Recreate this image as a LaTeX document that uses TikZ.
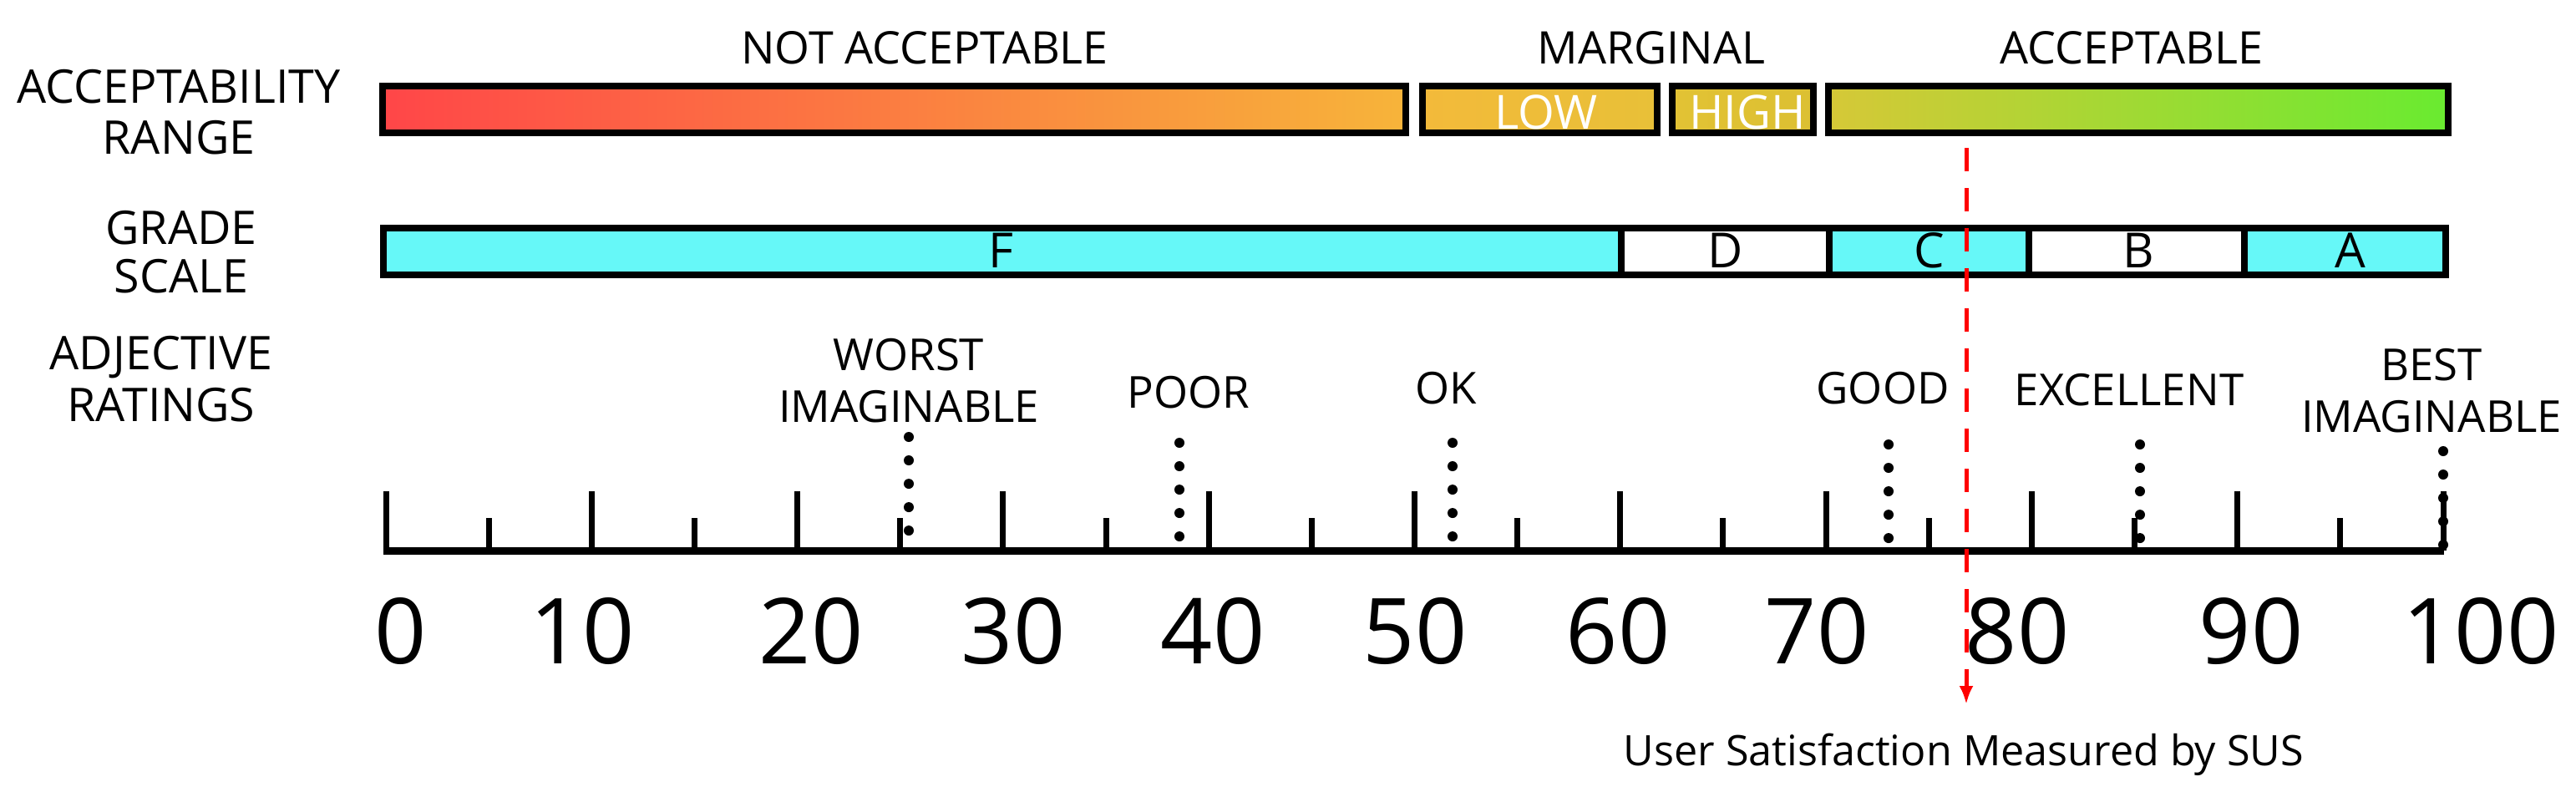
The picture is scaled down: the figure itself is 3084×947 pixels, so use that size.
\documentclass[tikz,border=0pt]{standalone}
\usepackage{fontspec}
\setmainfont{Open Sans}
\usetikzlibrary{arrows.meta}
\definecolor{cRed}{RGB}{255,70,72}
\definecolor{cOrg}{RGB}{255,135,66}
\definecolor{cYO}{RGB}{247,180,58}
\definecolor{cLowL}{RGB}{243,186,58}
\definecolor{cLowR}{RGB}{232,192,56}
\definecolor{cHighL}{RGB}{226,194,52}
\definecolor{cHighR}{RGB}{220,192,50}
\definecolor{cAccL}{RGB}{214,200,55}
\definecolor{cAccM}{RGB}{185,222,55}
\definecolor{cAccR}{RGB}{105,235,48}
\definecolor{cCyan}{RGB}{102,248,248}
\newcommand\myfs[2]{\fontsize{#1}{#2}\selectfont}
\begin{document}
\begin{tikzpicture}[x=0.01cm,y=-0.01cm,
  bar/.style={line width=0.08cm, draw=black, line join=miter},
  lbl/.style={inner sep=0pt, anchor=north, align=center, font=\myfs{15.8pt}{17.1pt}},
  toplbl/.style={inner sep=0pt, anchor=north, font=\myfs{15.3pt}{17pt}},
  adj/.style={inner sep=0pt, anchor=north, align=center, font=\myfs{15pt}{17.6pt}},
  seglbl/.style={inner sep=0pt, anchor=north, text=white, font=\myfs{16pt}{18pt}},
  grd/.style={inner sep=0pt, anchor=north, font=\myfs{16.5pt}{18pt}},
  num/.style={inner sep=0pt, anchor=north, font=\myfs{31pt}{34pt}},
  tickmark/.style={line width=0.07cm},
  adjmark/.style={line width=0.12cm, line cap=round, dash pattern=on 0pt off 0.28cm},
  susarrow/.style={red, line width=0.05cm, dash pattern=on 0.28cm off 0.2cm, -{Latex[length=0.22cm,width=0.17cm]}}
]
\useasboundingbox (0,0) rectangle (3084,947);

% acceptability range bar
\draw[bar, left color=cRed, middle color=cOrg, right color=cYO] (458,103) rectangle (1683,159);
\draw[bar, left color=cLowL, right color=cLowR] (1703,103) rectangle (1984,159);
\draw[bar, left color=cHighL, right color=cHighR] (2002,103) rectangle (2171,159);
\draw[bar, left color=cAccL, middle color=cAccM, right color=cAccR] (2189,103) rectangle (2931,159);

% grade scale bar
\fill[cCyan] (459,273) rectangle (1941,329);
\fill[cCyan] (2190,273) rectangle (2429,329);
\fill[cCyan] (2687,273) rectangle (2928,329);
\draw[bar] (459,273) rectangle (2928,329);
\foreach \xx in {1941,2190,2429,2687} \draw[bar] (\xx,273) -- (\xx,329);

% axis
\draw[line width=0.09cm] (459,659) -- (2926,659);
\foreach \v in {0,10,...,100} \draw[tickmark] ({462+24.63*\v},588) -- ({462+24.63*\v},659);
\foreach \v in {5,15,...,95} \draw[tickmark] ({462+24.63*\v},620) -- ({462+24.63*\v},659);

% adjective markers
\foreach \xx/\yy in {1088/523,1412/530,1739/530,2261/532,2562/532,2925/540}
  \draw[adjmark] (\xx,\yy) -- (\xx,655);

% row labels
\node[lbl] (accr) at (214,83) {ACCEPTABILITY\\RANGE};
\node[lbl, font=\myfs{15.8pt}{16.5pt}] (grds) at (217,252) {GRADE\\SCALE};
\node[lbl, font=\myfs{15.8pt}{17.4pt}] (adjr) at (193,402) {ADJECTIVE\\RATINGS};

% range labels
\node[toplbl] (nacc) at (1107,37) {NOT ACCEPTABLE};
\node[toplbl] (marg) at (1977,37) {MARGINAL};
\node[toplbl] (acc) at (2552,37) {ACCEPTABLE};
\node[seglbl] (low) at (1851,113) {LOW};
\node[seglbl] (high) at (2092,113) {HIGH};

% grades
\node[grd] (gF) at (1198,278) {F};
\node[grd] (gD) at (2066,278) {D};
\node[grd] (gC) at (2310,278) {C};
\node[grd] (gB) at (2560,278) {B};
\node[grd] (gA) at (2814,278) {A};

% adjectives
\node[adj] (worst) at (1088,405) {WORST\\IMAGINABLE};
\node[adj] (poor) at (1423,450) {POOR};
\node[adj] (ok) at (1731,445) {OK};
\node[adj] (good) at (2254,445) {GOOD};
\node[adj] (exc) at (2549,447) {EXCELLENT};
\node[adj] (best) at (2911,417) {BEST\\IMAGINABLE};

% numbers
\foreach \v/\c in {0/480,10/697,20/971,30/1213,40/1452,50/1694,60/1937,70/2175,80/2415,90/2695,100/2970}
  \node[num] (n\v) at (\c,715) {\v};

% SUS
\node[anchor=north, inner sep=0pt, font=\myfs{14.3pt}{16pt}] (sus) at (2351,877) {User Satisfaction Measured by SUS};
\coordinate (rtop) at (2354,177);
\coordinate (rtip) at (2354,843);
\draw[susarrow] (rtop) -- (rtip);
\end{tikzpicture}
\end{document}
